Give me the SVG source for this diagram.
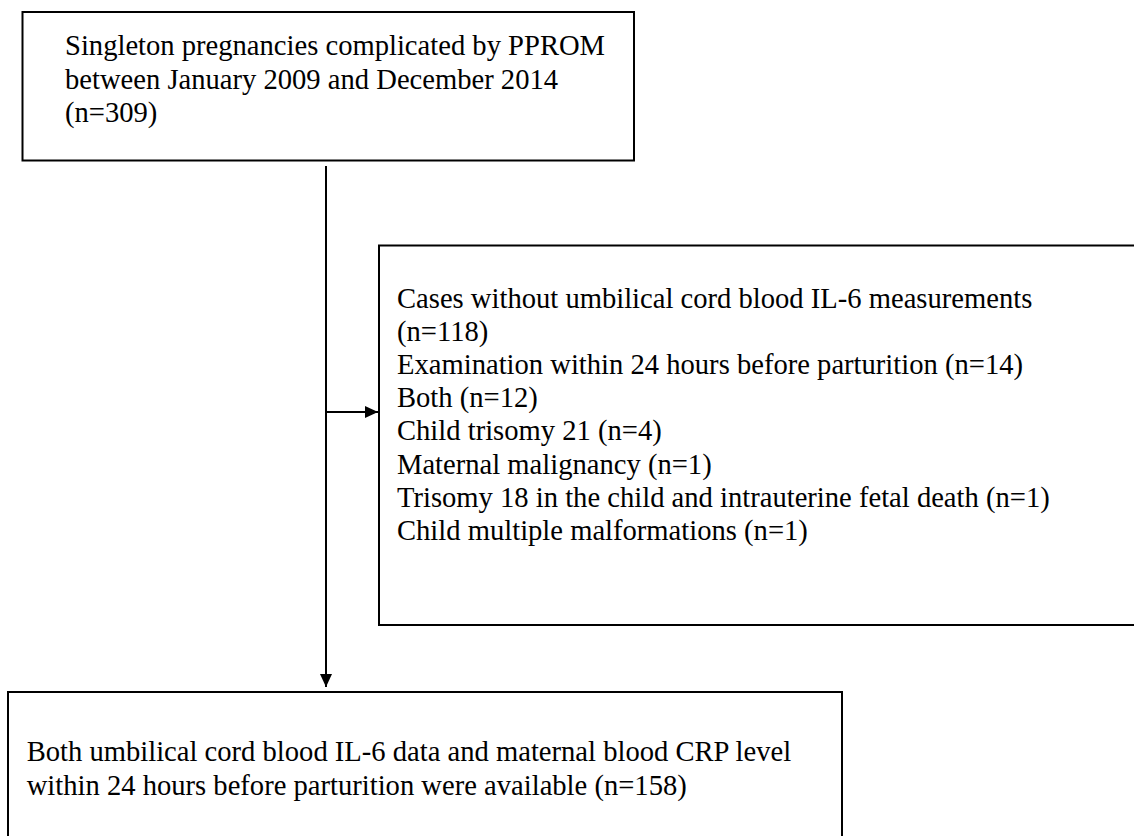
<svg xmlns="http://www.w3.org/2000/svg" width="1134" height="836" viewBox="0 0 1134 836">
<style>
.box{fill:#fff;stroke:#000;stroke-width:2}
.t{font-family:'Liberation Serif',serif;font-size:28.6px;fill:#000}
.c{stroke:#000;stroke-width:2;fill:none}
</style>
<defs>
<marker id="ah" markerUnits="userSpaceOnUse" markerWidth="14" markerHeight="12" refX="13" refY="6" orient="auto">
<path d="M0,0 L13,6 L0,12 Z" fill="#000"/>
</marker>
</defs>
<rect width="1134" height="836" fill="#fff"/>
<g id="node-top">
<rect class="box" x="22.5" y="12" width="611.5" height="148.5"/>
<text class="t" font-family="Liberation Serif, serif" x="65" y="55">Singleton pregnancies complicated by PPROM</text>
<text class="t" font-family="Liberation Serif, serif" x="65" y="88.5">between January 2009 and December 2014</text>
<text class="t" font-family="Liberation Serif, serif" x="65" y="122">(n=309)</text>
</g>
<g id="node-excluded">
<rect class="box" x="379" y="245.5" width="770" height="379.5"/>
<text class="t" x="397" y="307.5">Cases without umbilical cord blood IL-6 measurements</text>
<text class="t" x="397" y="340.7">(n=118)</text>
<text class="t" x="397" y="373.9">Examination within 24 hours before parturition (n=14)</text>
<text class="t" x="397" y="407.1">Both (n=12)</text>
<text class="t" x="397" y="440.3">Child trisomy 21 (n=4)</text>
<text class="t" x="397" y="473.5">Maternal malignancy (n=1)</text>
<text class="t" x="397" y="506.7">Trisomy 18 in the child and intrauterine fetal death (n=1)</text>
<text class="t" x="397" y="539.9">Child multiple malformations (n=1)</text>
</g>
<g id="node-final">
<rect class="box" x="8" y="692" width="834" height="170"/>
<text class="t" x="26.7" y="760.7">Both umbilical cord blood IL-6 data and maternal blood CRP level</text>
<text class="t" x="26.7" y="794.5">within 24 hours before parturition were available (n=158)</text>
</g>
<g id="connectors">
<line class="c" x1="326" y1="166" x2="326" y2="687" marker-end="url(#ah)"/>
<line class="c" x1="327" y1="412" x2="378" y2="412" marker-end="url(#ah)"/>
</g>
</svg>
